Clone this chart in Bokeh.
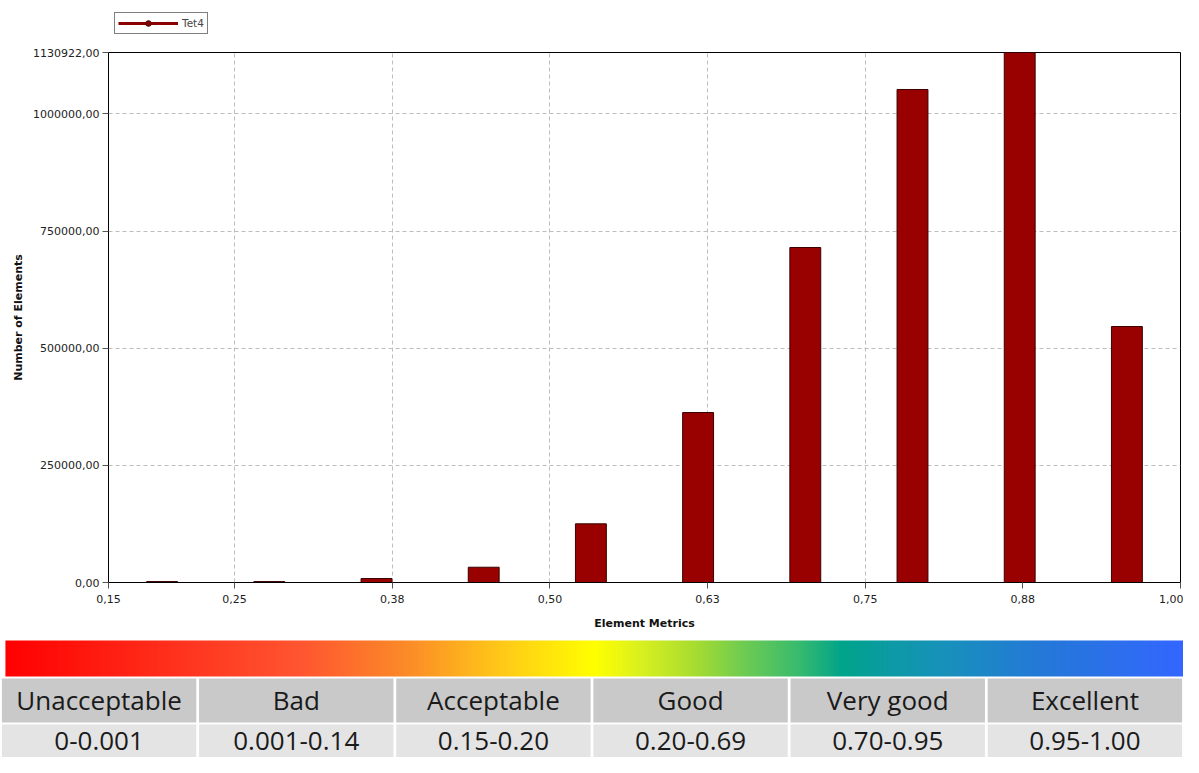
import numpy as np
from bokeh.plotting import figure
from bokeh.models import (FixedTicker, CustomJSTickFormatter, Legend, LegendItem,
                          Range1d)
from bokeh.layouts import column
from bokeh.embed import file_html
from bokeh.resources import INLINE
from bokeh.core.properties import value

# ---------------- data ----------------
series_name = "Tet4"
bin_centers = [0.1925, 0.2775, 0.3625, 0.4475, 0.5325, 0.6175, 0.7025, 0.7875, 0.8725, 0.9575]
element_counts = [2000, 2000, 8500, 32600, 125200, 362700, 714800, 1052000, 1130922, 546200]
x_ticks = [0.15, 0.25, 0.375, 0.5, 0.625, 0.75, 0.875, 1.0]
y_ticks = [0, 250000, 500000, 750000, 1000000, 1130922]
quality_labels = ["Unacceptable", "Bad", "Acceptable", "Good", "Very good", "Excellent"]
quality_ranges = ["0-0.001", "0.001-0.14", "0.15-0.20", "0.20-0.69", "0.70-0.95", "0.95-1.00"]
gradient_pos = [0.0, 0.17, 0.25, 0.34, 0.42, 0.5, 0.54, 0.585, 0.625, 0.67, 0.71, 0.75, 0.80, 0.88, 1.0]
gradient_col = ["#ff0000", "#ff3a22", "#ff5530", "#fb8a28", "#ffc818", "#ffff00", "#d8f020",
                "#a8dc30", "#70cc50", "#3cbc6c", "#00a48a", "#0c9aa4", "#1890bc", "#2478d8", "#3366ff"]

W = 1183
LEG_H = 44
CHART_H = 589
BOTTOM_H = 124
TICK_FONT = "DejaVu Sans"


def bare(fig):
    fig.frame_align = False
    fig.axis.visible = False
    fig.xgrid.visible = False
    fig.ygrid.visible = False
    fig.outline_line_color = None
    fig.background_fill_color = "white"
    fig.border_fill_color = "white"


# ---------------- legend strip ----------------
lf = figure(width=W, height=LEG_H, output_backend="svg", toolbar_location=None,
            x_range=Range1d(0, 1), y_range=Range1d(0, 1),
            min_border=0, min_border_left=0, min_border_right=0, min_border_top=0, min_border_bottom=0)
bare(lf)
lr = lf.line(x=[np.nan], y=[np.nan], line_color="#8b0000", line_width=3)
sr = lf.scatter(x=[np.nan], y=[np.nan], marker="circle", size=9,
                fill_color="#8b0000", line_color="#4a0000")
legend = Legend(items=[LegendItem(label=series_name, renderers=[lr, sr])],
                location=(114, 10), orientation="vertical")
legend.border_line_color = "black"
legend.border_line_width = 1
legend.background_fill_color = "white"
legend.background_fill_alpha = 1
legend.label_text_font = TICK_FONT
legend.label_text_font_size = "10.5px"
legend.glyph_width = 60
legend.glyph_height = 14
legend.label_height = 14
legend.label_standoff = 4
legend.padding = 3
legend.spacing = 0
legend.margin = 0
lf.add_layout(legend, "center")

# ---------------- chart ----------------
p = figure(width=W, height=CHART_H, output_backend="svg", toolbar_location=None,
           x_range=Range1d(0.15, 1.0), y_range=Range1d(0, 1130922),
           min_border_left=108, min_border_right=3, min_border_top=8, min_border_bottom=51)
p.frame_align = False
p.background_fill_color = "white"
p.border_fill_color = "white"
p.outline_line_color = "black"
p.outline_line_width = 1

p.vbar(x=bin_centers, width=0.0245, top=element_counts, bottom=0,
       fill_color="#990000", line_color="#3a0000", line_width=1)

fmt = CustomJSTickFormatter(code="return tick.toFixed(2).replace('.', ',');")
p.xaxis.ticker = FixedTicker(ticks=x_ticks)
p.yaxis.ticker = FixedTicker(ticks=y_ticks)
p.xaxis.formatter = fmt
p.yaxis.formatter = fmt
for ax in (p.xaxis[0], p.yaxis[0]):
    ax.major_tick_out = 6
    ax.major_tick_in = 0
    ax.minor_tick_out = 0
    ax.minor_tick_in = 0
    ax.axis_line_color = "black"
    ax.major_tick_line_color = "#555555"
    ax.major_label_text_font = TICK_FONT
    ax.major_label_text_font_size = "11px"
    ax.major_label_text_color = "#222222"
    ax.axis_label_text_font = TICK_FONT
    ax.axis_label_text_font_size = "11px"
    ax.axis_label_text_font_style = "bold"
    ax.axis_label_text_color = "#111111"
p.xaxis.axis_label = "Element Metrics"
p.yaxis.axis_label = "Number of Elements"
p.xaxis.major_label_standoff = 6
p.yaxis.major_label_standoff = 3
p.xaxis.axis_label_standoff = 11
p.yaxis.axis_label_standoff = 5

for g in (p.xgrid[0], p.ygrid[0]):
    g.grid_line_color = "#bdbdbd"
    g.grid_line_dash = "4 3"
    g.grid_line_width = 1

# ---------------- colour scale + table ----------------
b = figure(width=W, height=BOTTOM_H, output_backend="svg", toolbar_location=None,
           x_range=Range1d(0, 6), y_range=Range1d(0, BOTTOM_H),
           min_border=0, min_border_left=0, min_border_right=0, min_border_top=0, min_border_bottom=0)
bare(b)


def hex2rgb(h):
    return np.array([int(h[1:3], 16), int(h[3:5], 16), int(h[5:7], 16)], dtype=float)


n = 600
fr = (np.arange(n) + 0.5) / n
rgb = np.stack([hex2rgb(c) for c in gradient_col])
img = np.empty((1, n), dtype=np.uint32)
view = img.view(dtype=np.uint8).reshape((1, n, 4))
for k in range(3):
    view[0, :, k] = np.round(np.interp(fr, gradient_pos, rgb[:, k])).astype(np.uint8)
view[0, :, 3] = 255
b.image_rgba(image=[img], x=0.025, y=81, dw=5.975, dh=36)

idx = np.arange(len(quality_labels))
b.quad(left=idx + 0.007, right=idx + 1 - 0.007, bottom=35, top=79,
       fill_color="#c9c9c9", line_color=None)
b.quad(left=idx + 0.007, right=idx + 1 - 0.007, bottom=0, top=33,
       fill_color="#e4e4e4", line_color=None)
b.text(x=idx + 0.5, y=[58] * len(idx), text=quality_labels, text_align="center",
       text_baseline="middle", text_font=value("Open Sans"), text_font_size="26px",
       text_color="#1a1a1a")
b.text(x=idx + 0.5, y=[17] * len(idx), text=quality_ranges, text_align="center",
       text_baseline="middle", text_font=value("Open Sans"), text_font_size="26px",
       text_color="#1a1a1a")

layout = column(lf, p, b, spacing=0)
open("out.html", "w").write(file_html(layout, INLINE))
